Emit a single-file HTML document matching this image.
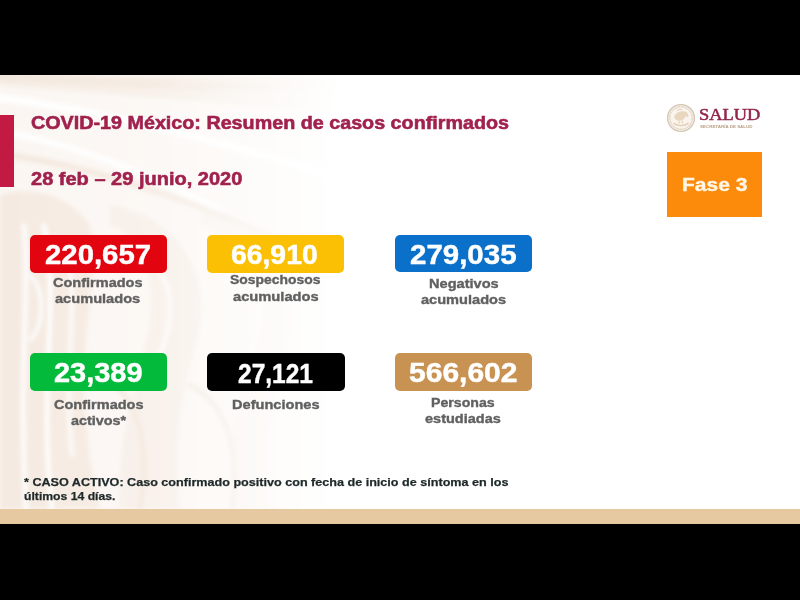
<!DOCTYPE html>
<html><head><meta charset="utf-8">
<style>
html,body{margin:0;padding:0;}
body{width:800px;height:600px;position:relative;overflow:hidden;background:#000;font-family:"Liberation Sans",sans-serif;}
.slide{position:absolute;left:0;top:75px;width:800px;height:449px;background:#fff;overflow:hidden;}
.t{position:absolute;white-space:nowrap;font-weight:bold;line-height:1;transform-origin:0 0;}
.box{position:absolute;border-radius:5px;}
</style></head>
<body>
<div class="slide">
  <svg width="800" height="449" style="position:absolute;left:0;top:0">
    <defs>
      <linearGradient id="fade" x1="0" y1="0" x2="1" y2="0">
        <stop offset="0" stop-color="#fff" stop-opacity="1"/>
        <stop offset="0.45" stop-color="#fff" stop-opacity="0.8"/>
        <stop offset="1" stop-color="#fff" stop-opacity="0"/>
      </linearGradient>
      <filter id="bl" x="-10%" y="-10%" width="120%" height="120%"><feGaussianBlur stdDeviation="2"/></filter>
      <mask id="m"><rect x="0" y="0" width="340" height="449" fill="url(#fade)"/></mask>
    </defs>
    <g mask="url(#m)">
      <rect x="0" y="0" width="340" height="434" fill="#FBF6F2"/>
      <g filter="url(#bl)">
        <path d="M0 0 H340 V40 C 250 30, 120 20, 0 10 Z" fill="#F6EDE5"/>
        <path d="M0 120 C 30 110, 70 120, 90 150 C 100 200, 80 260, 85 330 C 88 380, 95 410, 100 434 H0 Z" fill="#F5EAE1"/>
        <path d="M110 130 C 170 140, 210 190, 200 250 C 190 300, 170 340, 180 434 H120 C 115 360, 140 300, 150 250 C 158 200, 140 160, 110 150 Z" fill="#F7EEE7"/>
        <path d="M200 130 C 260 145, 300 200, 290 260 C 280 310, 260 360, 270 434 H230 C 225 360, 245 300, 255 250 C 262 200, 240 160, 200 150 Z" fill="#F8F1EB"/>
        <g fill="none" stroke="#FFFFFF" stroke-linecap="round">
          <path d="M-5 22 C 90 34, 200 60, 330 100" stroke-width="7"/>
          <path d="M-10 55 C 60 65, 130 90, 220 135" stroke-width="6"/>
          <path d="M24 150 C 30 220, 18 300, 26 434" stroke-width="4"/>
          <path d="M44 150 C 60 230, 38 310, 52 434" stroke-width="4"/>
          <path d="M30 200 C 45 215, 45 250, 30 265" stroke-width="3"/>
          <path d="M66 170 C 80 230, 62 300, 72 380" stroke-width="3"/>
          <path d="M130 170 C 170 190, 180 230, 160 280" stroke-width="3"/>
          <path d="M220 170 C 260 190, 270 230, 250 280" stroke-width="3"/>
        </g>
        <g fill="none" stroke="#F3E7DD" stroke-linecap="round">
          <path d="M-5 0 C 80 5, 200 15, 340 10" stroke-width="10"/>
          <path d="M8 80 C 80 90, 170 115, 290 170" stroke-width="6"/>
          <path d="M100 300 C 140 320, 150 370, 140 434" stroke-width="6"/>
          <path d="M190 310 C 230 330, 240 380, 232 434" stroke-width="5"/>
        </g>
      </g>
    </g>
  </svg>
</div>
<div class="bar" style="position:absolute;left:0;top:115px;width:14px;height:72px;background:#C31A44"></div>
<div class="strip" style="position:absolute;left:0;top:509.3px;width:800px;height:14.5px;background:#E6C8A1"></div>

<div class="box" style="left:30px;top:235px;width:137.4px;height:37.5px;background:#E2050F"></div>
<div class="box" style="left:206.6px;top:235px;width:137.6px;height:37.5px;background:#FBC003"></div>
<div class="box" style="left:395px;top:235px;width:137.3px;height:37.4px;background:#0A70C9"></div>
<div class="box" style="left:30px;top:353.2px;width:137.3px;height:37.5px;background:#04BA3B"></div>
<div class="box" style="left:207.1px;top:353.2px;width:137.6px;height:37.7px;background:#000"></div>
<div class="box" style="left:395px;top:353.1px;width:137.2px;height:37.7px;background:#C79252"></div>

<div class="fase" style="position:absolute;left:667.3px;top:151.7px;width:94.4px;height:65.1px;background:#FD8B0B"></div>

<svg class="seal" width="32" height="32" style="position:absolute;left:665.3px;top:101.7px">
  <defs><filter id="sb"><feGaussianBlur stdDeviation="0.35"/></filter></defs>
  <g filter="url(#sb)">
  <circle cx="16" cy="16" r="13.4" fill="#FAF4EC" stroke="#D2C5B4" stroke-width="1.3"/>
  <circle cx="16" cy="16" r="11.3" fill="none" stroke="#DCCFBE" stroke-width="1.6" stroke-dasharray="0.9 0.6"/>
  <path d="M9 15 C 11 10, 16 8.5, 20 9.5 C 23 10.5, 24 13, 23 15.5 L 21 14 C 20 17, 17 19, 13 18.5 C 11 18.2, 10 17, 9 15 Z" fill="#E8D6BE"/>
  <path d="M12 9 C 13 7.5, 15 7, 17 7.5" fill="none" stroke="#E2CFB5" stroke-width="1"/>
  <path d="M14 18.5 L 14 21.5 M 17 18.5 L 17.5 21.5" stroke="#E0CCB2" stroke-width="1"/>
  <path d="M8.5 21 C 12 24.5, 20 24.5, 23.5 21" fill="none" stroke="#E0CDB4" stroke-width="1.1"/>
  </g>
</svg>
<div id="title" class="t" style="left:31.02px;top:114.20px;font-size:18.2px;color:#A1214E;font-family:'Liberation Sans',sans-serif;-webkit-text-stroke:0.55px #A1214E;transform:scaleX(1.0847)">COVID-19 México: Resumen de casos confirmados</div>
<div id="date" class="t" style="left:31.18px;top:170.20px;font-size:18.2px;color:#A1214E;font-family:'Liberation Sans',sans-serif;-webkit-text-stroke:0.55px #A1214E;transform:scaleX(1.1000)">28 feb – 29 junio, 2020</div>
<div id="n1" class="t" style="left:45.34px;top:241.80px;font-size:26.8px;color:#fff;font-family:'Liberation Sans',sans-serif;-webkit-text-stroke:0.45px #fff;transform:scaleX(1.0950)">220,657</div>
<div id="n2" class="t" style="left:231.25px;top:242.00px;font-size:26.8px;color:#fff;font-family:'Liberation Sans',sans-serif;-webkit-text-stroke:0.45px #fff;transform:scaleX(1.0570)">66,910</div>
<div id="n3" class="t" style="left:409.94px;top:242.00px;font-size:26.8px;color:#fff;font-family:'Liberation Sans',sans-serif;-webkit-text-stroke:0.45px #fff;transform:scaleX(1.1000)">279,035</div>
<div id="n4" class="t" style="left:54.35px;top:360.40px;font-size:26.8px;color:#fff;font-family:'Liberation Sans',sans-serif;-webkit-text-stroke:0.45px #fff;transform:scaleX(1.0793)">23,389</div>
<div id="n5" class="t" style="left:237.95px;top:360.50px;font-size:26.8px;color:#fff;font-family:'Liberation Sans',sans-serif;-webkit-text-stroke:0.45px #fff;transform:scaleX(0.9151)">27,121</div>
<div id="n6" class="t" style="left:409.29px;top:360.30px;font-size:26.8px;color:#fff;font-family:'Liberation Sans',sans-serif;-webkit-text-stroke:0.45px #fff;transform:scaleX(1.1198)">566,602</div>
<div id="l1a" class="t" style="left:52.62px;top:277.25px;font-size:12.3px;color:#606060;font-family:'Liberation Sans',sans-serif;-webkit-text-stroke:0.35px #606060;transform:scaleX(1.1810)">Confirmados</div>
<div id="l1b" class="t" style="left:55.15px;top:292.60px;font-size:12.3px;color:#606060;font-family:'Liberation Sans',sans-serif;-webkit-text-stroke:0.35px #606060;transform:scaleX(1.1874)">acumulados</div>
<div id="l2a" class="t" style="left:230.12px;top:274.40px;font-size:12.3px;color:#606060;font-family:'Liberation Sans',sans-serif;-webkit-text-stroke:0.35px #606060;transform:scaleX(1.1311)">Sospechosos</div>
<div id="l2b" class="t" style="left:232.74px;top:290.60px;font-size:12.3px;color:#606060;font-family:'Liberation Sans',sans-serif;-webkit-text-stroke:0.35px #606060;transform:scaleX(1.1944)">acumulados</div>
<div id="l3a" class="t" style="left:428.73px;top:278.25px;font-size:12.3px;color:#606060;font-family:'Liberation Sans',sans-serif;-webkit-text-stroke:0.35px #606060;transform:scaleX(1.1865)">Negativos</div>
<div id="l3b" class="t" style="left:420.90px;top:293.90px;font-size:12.3px;color:#606060;font-family:'Liberation Sans',sans-serif;-webkit-text-stroke:0.35px #606060;transform:scaleX(1.1853)">acumulados</div>
<div id="l4a" class="t" style="left:53.62px;top:399.25px;font-size:12.3px;color:#606060;font-family:'Liberation Sans',sans-serif;-webkit-text-stroke:0.35px #606060;transform:scaleX(1.1810)">Confirmados</div>
<div id="l4b" class="t" style="left:70.75px;top:414.75px;font-size:12.3px;color:#606060;font-family:'Liberation Sans',sans-serif;-webkit-text-stroke:0.35px #606060;transform:scaleX(1.1697)">activos*</div>
<div id="l5a" class="t" style="left:231.83px;top:398.90px;font-size:12.3px;color:#606060;font-family:'Liberation Sans',sans-serif;-webkit-text-stroke:0.35px #606060;transform:scaleX(1.1865)">Defunciones</div>
<div id="l6a" class="t" style="left:430.60px;top:396.90px;font-size:12.3px;color:#606060;font-family:'Liberation Sans',sans-serif;-webkit-text-stroke:0.35px #606060;transform:scaleX(1.1507)">Personas</div>
<div id="l6b" class="t" style="left:424.63px;top:412.75px;font-size:12.3px;color:#606060;font-family:'Liberation Sans',sans-serif;-webkit-text-stroke:0.35px #606060;transform:scaleX(1.1799)">estudiadas</div>
<div id="fase" class="t" style="left:682.01px;top:174.60px;font-size:19.2px;color:#FFF6E6;font-family:'Liberation Sans',sans-serif;-webkit-text-stroke:0.4px #FFF6E6;transform:scaleX(1.0937)">Fase 3</div>
<div id="salud" class="t" style="font-weight:normal;left:699.40px;top:107.00px;font-size:16.5px;color:#93234A;font-family:'Liberation Serif',sans-serif;-webkit-text-stroke:0.5px #93234A;transform:scaleX(1.1149)">SALUD</div>
<div id="sub" class="t" style="left:699.70px;top:124.80px;font-size:4.3px;color:#B9A084;font-family:'Liberation Sans',sans-serif;transform:scaleX(1.0368)">SECRETARÍA DE SALUD</div>
<div id="f1" class="t" style="left:23.77px;top:476.75px;font-size:11.1px;color:#1E2828;font-family:'Liberation Sans',sans-serif;-webkit-text-stroke:0.25px #1E2828;transform:scaleX(1.1351)">* CASO ACTIVO: Caso confirmado positivo con fecha de inicio de síntoma en los</div>
<div id="f2" class="t" style="left:23.86px;top:490.60px;font-size:11.1px;color:#1E2828;font-family:'Liberation Sans',sans-serif;-webkit-text-stroke:0.25px #1E2828;transform:scaleX(1.0986)">últimos 14 días.</div>
</body></html>
